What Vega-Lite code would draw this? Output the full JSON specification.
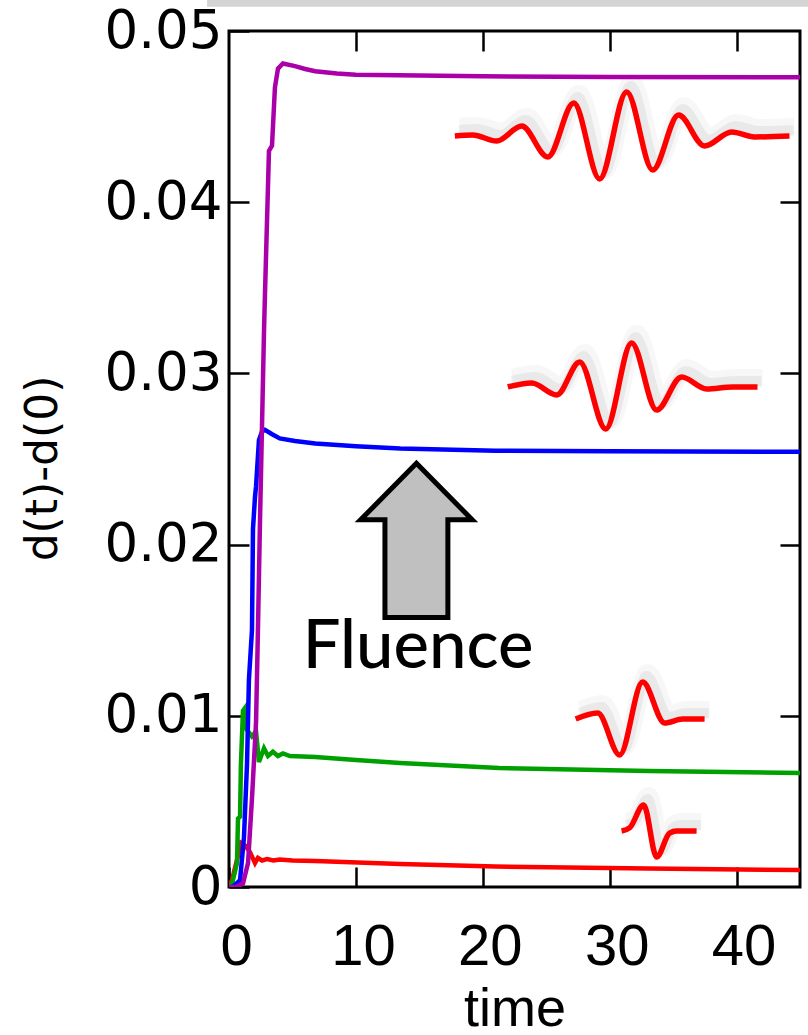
{
  "$schema": "https://vega.github.io/schema/vega-lite/v6.json",
  "width": 571,
  "height": 856,
  "autosize": "none",
  "padding": {"left": 229, "top": 31, "right": 8, "bottom": 148},
  "background": "white",
  "config": {
    "view": {"stroke": "black", "strokeWidth": 3},
    "axis": {"domain": false, "grid": false, "tickColor": "black", "tickWidth": 2.5, "tickSize": -20, "labelColor": "black", "titleColor": "black", "titleFontWeight": "normal", "labelOverlap": false, "labelBound": false, "labelFlush": false}
  },
  "datasets": {
    "bar": [{"x1": -1.73, "x2": 46, "y1": 0.05142, "y2": 0.052}],
    "curves": [
      {"s": "r", "t": 0, "v": 0}, {"s": "r", "t": 0.24, "v": 0.0004}, {"s": "r", "t": 0.4, "v": 0.0009}, {"s": "r", "t": 0.7, "v": 0.0018}, {"s": "r", "t": 0.95, "v": 0.00257}, {"s": "r", "t": 1.3, "v": 0.0024}, {"s": "r", "t": 1.65, "v": 0.00204}, {"s": "r", "t": 2.05, "v": 0.0014}, {"s": "r", "t": 2.28, "v": 0.0017}, {"s": "r", "t": 2.6, "v": 0.00155}, {"s": "r", "t": 3.0, "v": 0.00163}, {"s": "r", "t": 3.5, "v": 0.00155}, {"s": "r", "t": 4.0, "v": 0.0016}, {"s": "r", "t": 5.0, "v": 0.00155}, {"s": "r", "t": 6.8, "v": 0.00152}, {"s": "r", "t": 13.5, "v": 0.00134}, {"s": "r", "t": 21, "v": 0.0012}, {"s": "r", "t": 33, "v": 0.00108}, {"s": "r", "t": 45, "v": 0.00099},
      {"s": "g", "t": 0, "v": 0}, {"s": "g", "t": 0.15, "v": 0}, {"s": "g", "t": 0.31, "v": 0.0004}, {"s": "g", "t": 0.63, "v": 0.0014}, {"s": "g", "t": 0.71, "v": 0.004}, {"s": "g", "t": 0.87, "v": 0.0041}, {"s": "g", "t": 0.94, "v": 0.0072}, {"s": "g", "t": 1.1, "v": 0.0103}, {"s": "g", "t": 1.26, "v": 0.01046}, {"s": "g", "t": 1.4, "v": 0.0092}, {"s": "g", "t": 1.8, "v": 0.0088}, {"s": "g", "t": 2.13, "v": 0.0091}, {"s": "g", "t": 2.36, "v": 0.0073}, {"s": "g", "t": 2.76, "v": 0.0081}, {"s": "g", "t": 3.07, "v": 0.00765}, {"s": "g", "t": 3.46, "v": 0.0079}, {"s": "g", "t": 3.86, "v": 0.00765}, {"s": "g", "t": 4.25, "v": 0.0078}, {"s": "g", "t": 4.8, "v": 0.00765}, {"s": "g", "t": 6.8, "v": 0.0076}, {"s": "g", "t": 10, "v": 0.00742}, {"s": "g", "t": 13.5, "v": 0.00724}, {"s": "g", "t": 21.3, "v": 0.00695}, {"s": "g", "t": 33.1, "v": 0.00678}, {"s": "g", "t": 45, "v": 0.00666},
      {"s": "b", "t": 0, "v": 0}, {"s": "b", "t": 0.3, "v": 0}, {"s": "b", "t": 0.87, "v": 0.0004}, {"s": "b", "t": 1.18, "v": 0.0029}, {"s": "b", "t": 1.42, "v": 0.0072}, {"s": "b", "t": 1.57, "v": 0.0121}, {"s": "b", "t": 1.81, "v": 0.015}, {"s": "b", "t": 1.89, "v": 0.0209}, {"s": "b", "t": 2.05, "v": 0.0228}, {"s": "b", "t": 2.13, "v": 0.0234}, {"s": "b", "t": 2.36, "v": 0.0261}, {"s": "b", "t": 2.6, "v": 0.0266}, {"s": "b", "t": 2.83, "v": 0.0267}, {"s": "b", "t": 3.4, "v": 0.02645}, {"s": "b", "t": 4.0, "v": 0.0262}, {"s": "b", "t": 5.2, "v": 0.02605}, {"s": "b", "t": 6.8, "v": 0.0259}, {"s": "b", "t": 10, "v": 0.02575}, {"s": "b", "t": 13.5, "v": 0.02562}, {"s": "b", "t": 21, "v": 0.02548}, {"s": "b", "t": 30, "v": 0.02545}, {"s": "b", "t": 45, "v": 0.02542},
      {"s": "p", "t": 0, "v": 0}, {"s": "p", "t": 0.55, "v": 0}, {"s": "p", "t": 1.1, "v": 0.0002}, {"s": "p", "t": 1.5, "v": 0.0014}, {"s": "p", "t": 1.82, "v": 0.0053}, {"s": "p", "t": 2.13, "v": 0.0096}, {"s": "p", "t": 2.28, "v": 0.015}, {"s": "p", "t": 2.44, "v": 0.0213}, {"s": "p", "t": 2.76, "v": 0.0325}, {"s": "p", "t": 2.83, "v": 0.0345}, {"s": "p", "t": 3.15, "v": 0.043}, {"s": "p", "t": 3.39, "v": 0.0433}, {"s": "p", "t": 3.62, "v": 0.0467}, {"s": "p", "t": 3.86, "v": 0.0478}, {"s": "p", "t": 4.25, "v": 0.0481}, {"s": "p", "t": 5.2, "v": 0.04795}, {"s": "p", "t": 6.0, "v": 0.04778}, {"s": "p", "t": 6.8, "v": 0.04765}, {"s": "p", "t": 8.5, "v": 0.04752}, {"s": "p", "t": 10, "v": 0.04745}, {"s": "p", "t": 15, "v": 0.0474}, {"s": "p", "t": 20, "v": 0.04735}, {"s": "p", "t": 30, "v": 0.04732}, {"s": "p", "t": 45, "v": 0.0473}
    ],
    "waves": [
      {"w": 1, "t": 17.8, "v": 0.04387}, {"w": 1, "t": 19.21, "v": 0.04393}, {"w": 1, "t": 21.1, "v": 0.04357}, {"w": 1, "t": 23.07, "v": 0.04445}, {"w": 1, "t": 25.12, "v": 0.04264}, {"w": 1, "t": 27.17, "v": 0.04579}, {"w": 1, "t": 29.21, "v": 0.04136}, {"w": 1, "t": 31.34, "v": 0.04644}, {"w": 1, "t": 33.39, "v": 0.04188}, {"w": 1, "t": 35.43, "v": 0.04509}, {"w": 1, "t": 37.48, "v": 0.04328}, {"w": 1, "t": 39.61, "v": 0.0441}, {"w": 1, "t": 41.42, "v": 0.04381}, {"w": 1, "t": 44.17, "v": 0.04387},
      {"w": 2, "t": 21.97, "v": 0.02921}, {"w": 2, "t": 23.86, "v": 0.02944}, {"w": 2, "t": 25.83, "v": 0.02874}, {"w": 2, "t": 27.64, "v": 0.03067}, {"w": 2, "t": 29.69, "v": 0.02675}, {"w": 2, "t": 31.73, "v": 0.03178}, {"w": 2, "t": 33.7, "v": 0.02786}, {"w": 2, "t": 35.67, "v": 0.02979}, {"w": 2, "t": 37.64, "v": 0.02909}, {"w": 2, "t": 39.69, "v": 0.02921}, {"w": 2, "t": 41.65, "v": 0.02921},
      {"w": 3, "t": 27.32, "v": 0.00981}, {"w": 3, "t": 29.06, "v": 0.01016}, {"w": 3, "t": 30.79, "v": 0.00771}, {"w": 3, "t": 32.6, "v": 0.01197}, {"w": 3, "t": 34.33, "v": 0.00958}, {"w": 3, "t": 35.75, "v": 0.00981}, {"w": 3, "t": 37.48, "v": 0.00981},
      {"w": 4, "t": 30.94, "v": 0.00327}, {"w": 4, "t": 31.57, "v": 0.00345}, {"w": 4, "t": 32.68, "v": 0.00479}, {"w": 4, "t": 33.7, "v": 0.00175}, {"w": 4, "t": 34.72, "v": 0.00315}, {"w": 4, "t": 35.28, "v": 0.00327}, {"w": 4, "t": 36.85, "v": 0.00327}
    ],
    "arrow": [{"t": 14.77, "v": 0.02027}],
    "label": [{"t": 14.9, "v": 0.01279, "text": "Fluence"}]
  },
  "layer": [
    {
      "data": {"name": "bar"},
      "mark": {"type": "rect", "color": "#d4d4d4"},
      "encoding": {
        "x": {"field": "x1", "type": "quantitative", "scale": {"domain": [0, 45], "nice": false, "zero": false}, "axis": null},
        "x2": {"field": "x2"},
        "y": {"field": "y1", "type": "quantitative", "scale": {"domain": [0, 0.05], "nice": false}, "axis": null},
        "y2": {"field": "y2"}
      }
    },
    {
      "data": {"name": "waves"},
      "mark": {"type": "line", "interpolate": "monotone", "color": "#999999", "strokeWidth": 18, "opacity": 0.08, "xOffset": 5, "yOffset": -9},
      "encoding": {
        "x": {"field": "t", "type": "quantitative", "axis": null},
        "y": {"field": "v", "type": "quantitative", "axis": null},
        "detail": {"field": "w"}
      }
    },
    {
      "data": {"name": "waves"},
      "mark": {"type": "line", "interpolate": "monotone", "color": "#999999", "strokeWidth": 10, "opacity": 0.15, "xOffset": 4, "yOffset": -6},
      "encoding": {
        "x": {"field": "t", "type": "quantitative", "axis": null},
        "y": {"field": "v", "type": "quantitative", "axis": null},
        "detail": {"field": "w"}
      }
    },
    {
      "data": {"name": "waves"},
      "mark": {"type": "line", "interpolate": "monotone", "color": "#ff0000", "strokeWidth": 5.5},
      "encoding": {
        "x": {"field": "t", "type": "quantitative", "axis": null},
        "y": {"field": "v", "type": "quantitative", "axis": null},
        "detail": {"field": "w"}
      }
    },
    {
      "data": {"name": "curves"},
      "mark": {"type": "line", "strokeWidth": 4.5, "clip": true},
      "encoding": {
        "x": {"field": "t", "type": "quantitative", "title": "time",
          "axis": {"orient": "bottom", "values": [0, 10, 20, 30, 40], "labelFont": "Liberation Sans Narrow, Liberation Sans", "labelFontSize": 58, "labelPadding": 51, "labelOffset": 7, "titleFont": "Liberation Sans Narrow, Liberation Sans", "titleFontSize": 54, "titleBaseline": "alphabetic", "titleY": 138}},
        "y": {"field": "v", "type": "quantitative", "title": "d(t)-d(0)",
          "axis": {"orient": "left", "values": [0, 0.01, 0.02, 0.03, 0.04, 0.05], "format": ".2~f", "labelFont": "DejaVu Sans", "labelFontSize": 53, "labelPadding": 27, "titleFont": "DejaVu Sans", "titleFontSize": 44, "titleX": -186, "titleY": 437, "titleBaseline": "middle"}},
        "color": {"field": "s", "type": "nominal", "scale": {"domain": ["r", "g", "b", "p"], "range": ["#ff0000", "#00a000", "#0000ff", "#aa00aa"]}, "legend": null}
      }
    },
    {
      "data": {"name": "arrow"},
      "mark": {"type": "point", "shape": "M0,-0.99 L0.72,-0.26 L0.406,-0.26 L0.406,1 L-0.406,1 L-0.406,-0.26 L-0.72,-0.26 Z", "size": 24025, "filled": true, "fill": "#c0c0c0", "stroke": "black", "strokeWidth": 5, "opacity": 1, "strokeJoin": "miter"},
      "encoding": {
        "x": {"field": "t", "type": "quantitative", "axis": {"orient": "top", "values": [10, 20, 30, 40], "labels": false, "title": null}},
        "y": {"field": "v", "type": "quantitative", "axis": {"orient": "right", "values": [0.01, 0.02, 0.03, 0.04], "labels": false, "title": null}}
      }
    },
    {
      "data": {"name": "label"},
      "mark": {"type": "text", "font": "Lato", "fontSize": 67, "fontWeight": 500, "align": "center", "baseline": "alphabetic", "color": "black"},
      "encoding": {
        "x": {"field": "t", "type": "quantitative", "axis": null},
        "y": {"field": "v", "type": "quantitative", "axis": null},
        "text": {"field": "text"}
      }
    }
  ],
  "resolve": {"axis": {"x": "independent", "y": "independent"}}
}
